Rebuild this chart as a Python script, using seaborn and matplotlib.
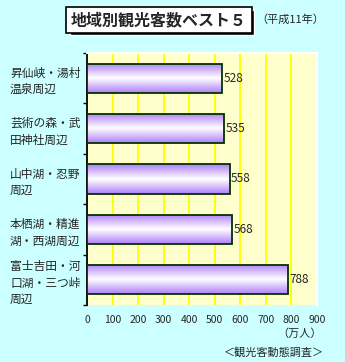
import numpy as np
import pandas as pd
import matplotlib
matplotlib.use("Agg")
import matplotlib.pyplot as plt
import seaborn as sns
from matplotlib.colors import LinearSegmentedColormap
from matplotlib.ticker import FixedLocator

categories = ["昇仙峡・湯村\n温泉周辺", "芸術の森・武\n田神社周辺", "山中湖・忍野\n周辺",
              "本栖湖・精進\n湖・西湖周辺", "富士吉田・河\n口湖・三つ峠\n周辺"]
values = [528, 535, 558, 568, 788]
xticks = [0, 100, 200, 300, 400, 500, 600, 700, 800, 900]

sns.set_theme(style="white")
plt.rcParams['font.family'] = ['Noto Sans CJK JP', 'DejaVu Sans']

W, H = 345, 362
fig = plt.figure(figsize=(W / 100, H / 100), dpi=100, facecolor="#CCFFFF")
ax = fig.add_axes([87 / W, 1 - 305 / H, (317 - 87) / W, (305 - 53) / H])
ax.set_facecolor("#FFFFCC")

df = pd.DataFrame({"cat": categories, "val": values})
sns.barplot(data=df, x="val", y="cat", ax=ax, orient="h", width=0.58,
            color="#C8A8F8", edgecolor="#003300", linewidth=1.3, zorder=3)

ax.set_xlim(0, 900)
ax.set_ylim(len(categories) - 0.5, -0.5)
ax.set_xticks(xticks)
ax.set_xticklabels([str(t) for t in xticks], fontsize=7.5)
ax.tick_params(axis="x", length=0, pad=7)
for t in xticks[1:]:
    ax.axvline(t, color="#FFFF00", lw=1.3, zorder=1)

# gradient fill on bars
cmap = LinearSegmentedColormap.from_list("g", ["#B080F8", "#FFFFFF", "#B080F8"])
grad = np.linspace(0, 1, 64).reshape(-1, 1)
for p in ax.patches:
    x0, y0 = p.get_x(), p.get_y()
    w, h = p.get_width(), p.get_height()
    im = ax.imshow(grad, cmap=cmap, aspect="auto", extent=[x0, x0 + w, y0 + h, y0],
                   zorder=3.5, interpolation="bilinear")
    im.set_clip_path(p)
    p.set_facecolor("none")
    p.set_zorder(4)
    ax.text(x0 + w + 6, y0 + h / 2, str(int(w)), va="center", ha="left",
            fontsize=8.5, zorder=5)

ax.set_xlim(0, 900)
ax.set_ylim(len(categories) - 0.5, -0.5)

ax.set_xlabel("")
ax.set_ylabel("")
ax.yaxis.set_minor_locator(FixedLocator(np.arange(-0.5, len(categories), 1.0)))
ax.tick_params(axis="y", which="major", length=0, pad=77 * 0.72, labelsize=8.5)
ax.tick_params(axis="y", which="minor", left=True, length=3, width=1, color="black")
for lab in ax.get_yticklabels():
    lab.set_ha("left")
    lab.set_linespacing(1.35)

for s in ["top", "right"]:
    ax.spines[s].set_color("white")
    ax.spines[s].set_linewidth(1.5)
ax.spines["bottom"].set_visible(False)
ax.spines["left"].set_color("black")
ax.spines["left"].set_linewidth(1.3)

# title box
fig.text(159 / W, 1 - 20 / H, "地域別観光客数ベスト５", fontsize=11.5, fontweight="bold",
         ha="center", va="center",
         bbox=dict(boxstyle="square,pad=0.3", facecolor="white", edgecolor="black", lw=1.2))
fig.patches.append(plt.Rectangle((70 / W, 1 - 35 / H), 184 / W, 25 / H,
                                 transform=fig.transFigure, facecolor="black", zorder=0))
fig.text(256 / W, 1 - 20 / H, "（平成11年）", fontsize=8, ha="left", va="center")
fig.text(322 / W, 1 - 334 / H, "（万人）", fontsize=8, ha="right", va="center")
fig.text(324 / W, 1 - 352 / H, "＜観光客動態調査＞", fontsize=8, ha="right", va="center")

fig.savefig("out.png", dpi=100, facecolor=fig.get_facecolor())
